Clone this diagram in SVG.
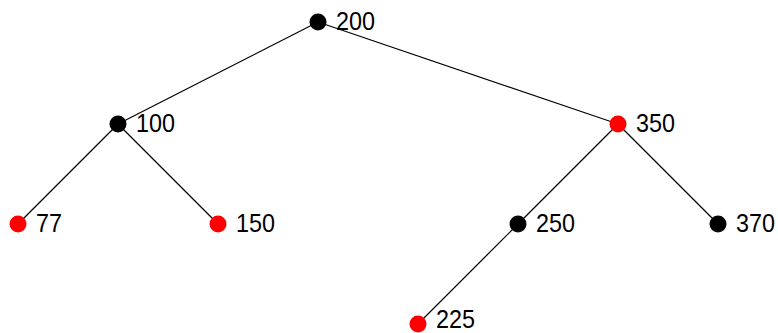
<svg xmlns="http://www.w3.org/2000/svg" width="778" height="333" viewBox="0 0 778 333">
<style>
.e{stroke:#000;stroke-width:1.2;fill:none}
.b{fill:#000}
.r{fill:#f00}
text{font-family:"Liberation Sans",Arial,sans-serif;font-size:26px;fill:#000}
</style>
<rect width="778" height="333" fill="#fff"/>
<g id="edges">
<line class="e" x1="318" y1="22" x2="118" y2="124"/>
<line class="e" x1="318" y1="22" x2="618" y2="124"/>
<line class="e" x1="118" y1="124" x2="18" y2="224"/>
<line class="e" x1="118" y1="124" x2="218" y2="224"/>
<line class="e" x1="618" y1="124" x2="518" y2="224"/>
<line class="e" x1="618" y1="124" x2="718" y2="224"/>
<line class="e" x1="518" y1="224" x2="418" y2="324"/>
</g>
<g id="n200"><circle class="b" cx="318" cy="22" r="8.5"/><text x="336" y="30" textLength="39" lengthAdjust="spacingAndGlyphs">200</text></g>
<g id="n100"><circle class="b" cx="118" cy="124" r="8.5"/><text x="136" y="132" textLength="39" lengthAdjust="spacingAndGlyphs">100</text></g>
<g id="n350"><circle class="r" cx="618" cy="124" r="8.5"/><text x="636" y="132" textLength="39" lengthAdjust="spacingAndGlyphs">350</text></g>
<g id="n77"><circle class="r" cx="18" cy="224" r="8.5"/><text x="36" y="232" textLength="26" lengthAdjust="spacingAndGlyphs">77</text></g>
<g id="n150"><circle class="r" cx="218" cy="224" r="8.5"/><text x="236" y="232" textLength="39" lengthAdjust="spacingAndGlyphs">150</text></g>
<g id="n250"><circle class="b" cx="518" cy="224" r="8.5"/><text x="536" y="232" textLength="39" lengthAdjust="spacingAndGlyphs">250</text></g>
<g id="n370"><circle class="b" cx="718" cy="224" r="8.5"/><text x="736" y="232" textLength="39" lengthAdjust="spacingAndGlyphs">370</text></g>
<g id="n225"><circle class="r" cx="418" cy="324" r="8.5"/><text x="436" y="328" font-size="24" textLength="39" lengthAdjust="spacingAndGlyphs">225</text></g>
</svg>
